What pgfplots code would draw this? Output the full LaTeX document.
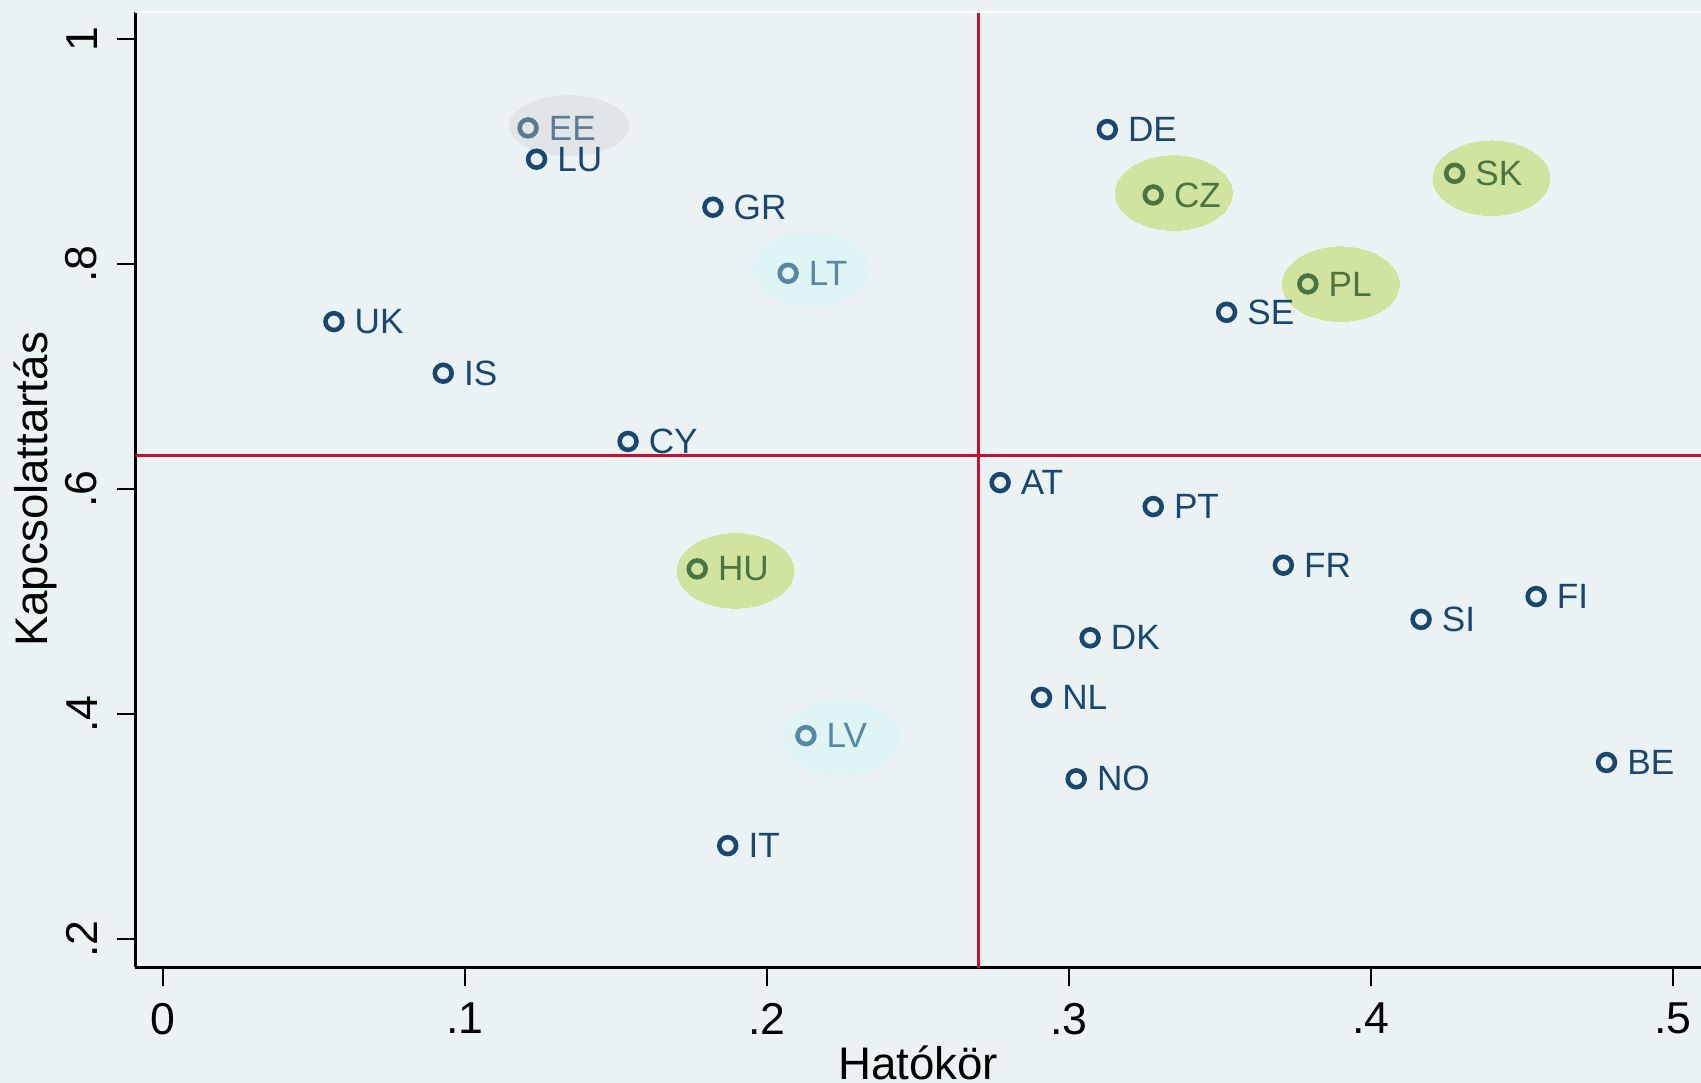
\documentclass[border=0pt]{standalone}
\usepackage{fontspec}
\setmainfont{Liberation Sans}
\usepackage{pgfplots}
\usepackage{pgfplotstable}
\pgfplotsset{compat=1.18}

\definecolor{bgc}{RGB}{234,242,243}
\definecolor{navy}{RGB}{26,71,111}
\definecolor{redl}{RGB}{196,18,48}
\definecolor{grfill}{RGB}{208,228,160}
\definecolor{grtxt}{RGB}{74,116,66}
\definecolor{cyfill}{RGB}{222,244,245}
\definecolor{cytxt}{RGB}{88,134,165}
\definecolor{gyfill}{RGB}{224,230,231}
\definecolor{gytxt}{RGB}{92,122,150}

% countries: Hatókör (x), Kapcsolattartás (y)
\pgfplotstableread[row sep=\\]{
x y lab\\
0.1237 0.8933 LU\\
0.1821 0.8506 GR\\
0.0566 0.7489 UK\\
0.0928 0.7030 IS\\
0.1540 0.6423 CY\\
0.1870 0.2829 IT\\
0.3127 0.9197 DE\\
0.3522 0.7572 SE\\
0.2772 0.6057 AT\\
0.3279 0.5844 PT\\
0.3710 0.5323 FR\\
0.4166 0.4841 SI\\
0.4547 0.5044 FI\\
0.3070 0.4677 DK\\
0.2909 0.4147 NL\\
0.3024 0.3423 NO\\
0.4780 0.3568 BE\\
}\navytab

\pgfplotstableread[row sep=\\]{
x y lab\\
0.3279 0.8615 CZ\\
0.4277 0.8808 SK\\
0.3791 0.7824 PL\\
0.1769 0.5290 HU\\
}\greentab

\pgfplotstableread[row sep=\\]{
x y lab\\
0.2070 0.7919 LT\\
0.2129 0.3807 LV\\
}\cyantab

\pgfplotstableread[row sep=\\]{
x y lab\\
0.1209 0.9211 EE\\
}\graytab

\begin{document}
\begin{tikzpicture}
\fill[bgc] (-1.353,-1.157) rectangle (15.657,9.673);
\begin{axis}[
  at={(0,0)}, anchor=south west,
  scale only axis, width=15.657cm, height=9.556cm,
  xmin=-0.00917, xmax=0.5093, ymin=0.1747, ymax=1.0245,
  axis background/.style={fill=bgc},
  axis x line*=bottom, axis y line*=left,
  axis line style={black, line width=0.7pt, -},
  xtick={0,0.1,0.2,0.3,0.4,0.5}, xticklabels={0,.1,.2,.3,.4,.5},
  ytick={0.2,0.4,0.6,0.8,1}, yticklabels={.2,.4,.6,.8,1},
  tick align=outside, major tick length=0.185cm,
  tick style={black, line width=0.6pt},
  xticklabel style={anchor=north, inner sep=0pt, font=\fontsize{12.7}{14}\selectfont},
  yticklabel style={rotate=90, anchor=south, inner sep=0pt, font=\fontsize{12.7}{14}\selectfont},
  xticklabel shift=0.167cm, yticklabel shift=0.19cm,
  xlabel={Hatókör}, ylabel={Kapcsolattartás},
  label style={font=\fontsize{13}{15}\selectfont, inner sep=0pt},
  xlabel style={at={(axis description cs:0.5,-0.117)}, anchor=base},
  ylabel style={at={(axis description cs:-0.0558,0.5)}, anchor=base},
  point meta=explicit symbolic,
  every node near coord/.append style={anchor=west, inner sep=0pt, xshift=0.185cm,
    font=\fontsize{10}{12}\selectfont},
  after end axis/.code={\draw[white, line width=0.6pt] (rel axis cs:0,1) -- (rel axis cs:1,1);},
]
% highlight ellipses
\addplot[grfill, only marks, mark=*, mark size=10.6pt,
  mark options={draw=grfill, line width=0pt, fill=grfill, xscale=1.57}] coordinates {
  (0.3347,0.8632) (0.4399,0.8764) (0.3900,0.7822) (0.1896,0.5272)};
\addplot[cyfill, only marks, mark=*, mark size=10.6pt,
  mark options={draw=cyfill, line width=0pt, fill=cyfill, xscale=1.57}] coordinates {
  (0.2147,0.7959) (0.2247,0.3791)};
\addplot[gyfill, only marks, mark=*, mark size=8.5pt,
  mark options={draw=gyfill, line width=0pt, fill=gyfill, xscale=2.0}] coordinates {
  (0.1344,0.9231)};
% reference lines
\addplot[redl, line width=1pt] coordinates {(0.27,0.1) (0.27,1.1)};
\addplot[redl, line width=1pt] coordinates {(-0.05,0.63) (0.55,0.63)};
% countries
\addplot[only marks, mark=o, mark size=2.4pt, mark options={line width=1.3pt, draw=navy},
  nodes near coords, every node near coord/.append style={text=navy}]
  table[meta=lab] {\navytab};
\addplot[only marks, mark=o, mark size=2.4pt, mark options={line width=1.3pt, draw=grtxt},
  nodes near coords, every node near coord/.append style={text=grtxt}]
  table[meta=lab] {\greentab};
\addplot[only marks, mark=o, mark size=2.4pt, mark options={line width=1.3pt, draw=cytxt},
  nodes near coords, every node near coord/.append style={text=cytxt}]
  table[meta=lab] {\cyantab};
\addplot[only marks, mark=o, mark size=2.4pt, mark options={line width=1.3pt, draw=gytxt},
  nodes near coords, every node near coord/.append style={text=gytxt}]
  table[meta=lab] {\graytab};
\end{axis}
\pgfresetboundingbox
\path (-1.353,-1.157) rectangle (15.657,9.673);
\end{tikzpicture}
\end{document}
